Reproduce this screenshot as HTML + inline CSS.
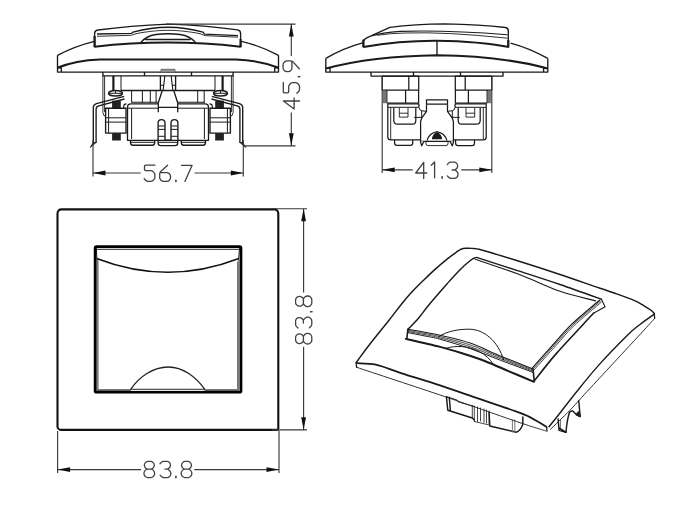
<!DOCTYPE html>
<html><head><meta charset="utf-8"><title>Switch drawing</title>
<style>
html,body{margin:0;padding:0;background:#fff;}
body{width:696px;height:510px;overflow:hidden;font-family:"Liberation Sans",sans-serif;}
svg{display:block;}
</style></head><body>
<svg width="696" height="510" viewBox="0 0 696 510">
<defs>
<g id="d5"><path d="M10.90,0.20 L1.80,0.20 Q0.50,0.20 0.50,1.50 L0.50,4.30 Q0.50,5.60 1.80,5.60 L6.70,5.60 Q8.00,5.60 8.94,6.50 L9.86,7.40 Q10.80,8.30 10.80,9.60 L10.80,12.40 Q10.80,13.70 9.86,14.60 L8.94,15.50 Q8.00,16.40 6.70,16.40 L4.10,16.40 Q2.80,16.40 1.88,15.48 L0.20,13.80"/></g>
<g id="d6"><path d="M7.90,0.20 L1.05,6.50 Q0.50,7.00 0.25,7.70 L0.25,7.70 Q0.00,8.40 0.00,9.14 L0.00,12.50 Q0.00,13.80 0.92,14.72 L1.68,15.48 Q2.60,16.40 3.90,16.40 L7.10,16.40 Q8.40,16.40 9.32,15.48 L9.88,14.92 Q10.80,14.00 10.80,12.70 L10.80,11.30 Q10.80,10.00 9.88,9.08 L9.32,8.52 Q8.40,7.60 7.10,7.60 L0.30,7.60"/></g>
<g id="d9"><path d="M2.90,16.20 L9.75,9.90 Q10.30,9.40 10.55,8.70 L10.55,8.70 Q10.80,8.00 10.80,7.26 L10.80,3.90 Q10.80,2.60 9.88,1.68 L9.12,0.92 Q8.20,0.00 6.90,0.00 L3.70,0.00 Q2.40,0.00 1.48,0.92 L0.92,1.48 Q0.00,2.40 0.00,3.70 L0.00,5.10 Q0.00,6.40 0.92,7.32 L1.48,7.88 Q2.40,8.80 3.70,8.80 L10.50,8.80"/></g>
<g id="d8"><path d="M1.81,6.97 L1.39,6.43 Q0.60,5.40 0.60,4.10 L0.60,3.90 Q0.60,2.60 1.48,1.64 L1.92,1.16 Q2.80,0.20 4.10,0.20 L6.90,0.20 Q8.20,0.20 9.08,1.16 L9.52,1.64 Q10.40,2.60 10.40,3.90 L10.40,4.10 Q10.40,5.40 9.61,6.43 L9.19,6.97 Q8.40,8.00 7.10,8.00 L3.90,8.00 Q2.60,8.00 1.81,6.97 M1.72,8.96 L1.08,9.64 Q0.20,10.60 0.20,11.90 L0.20,12.60 Q0.20,13.90 1.10,14.84 L1.70,15.46 Q2.60,16.40 3.90,16.40 L7.10,16.40 Q8.40,16.40 9.30,15.46 L9.90,14.84 Q10.80,13.90 10.80,12.60 L10.80,11.90 Q10.80,10.60 9.92,9.64 L9.28,8.96 Q8.40,8.00 7.10,8.00 L3.90,8.00 Q2.60,8.00 1.72,8.96"/></g>
<g id="d3"><path d="M0.00,2.60 L1.40,1.14 Q2.30,0.20 3.60,0.20 L7.00,0.20 Q8.30,0.20 9.22,1.12 L9.48,1.38 Q10.40,2.30 10.40,3.60 L10.40,4.30 Q10.40,5.60 9.48,6.52 L8.92,7.08 Q8.00,8.00 6.70,8.00 L5.00,8.00 M8.00,8.00 L9.85,9.72 Q10.80,10.60 10.80,11.90 L10.80,12.70 Q10.80,14.00 9.88,14.92 L9.32,15.48 Q8.40,16.40 7.10,16.40 L3.90,16.40 Q2.60,16.40 1.68,15.48 L0.10,13.90"/></g>
<g id="d4"><path d="M8.2,16.4 V0.3 L0.2,11.0 H11.2"/></g>
<g id="d7"><path d="M0.3,0.3 H10.9 L3.7,16.4"/></g>
<g id="d1"><path d="M0,3.3 L3.3,0.2 V16.4"/></g>
<g id="dp"><path d="M0.6,15.2 V16.6" stroke-width="1.6"/></g>
<g id="arrow"><path d="M0,0 L12.5,-2.4 L12.5,2.4 Z"/></g>
</defs>
<!-- ===== view 3: front ===== -->
<g fill="none">
  <path d="M57.5,213.4 A4,4 0 0 1 61.5,209.4 H274.3 A4,4 0 0 1 278.3,213.4 V428.9 A1,1 0 0 1 277.3,429.9 H61 A3.5,3.5 0 0 1 57.5,426.4 Z" stroke="#111" stroke-width="2.1"/>
  <path d="M97.4,258.5 V390.1 H239" stroke="#7a7a7a" stroke-width="2.4"/>
  <path d="M238.6,258.5 V390" stroke="#8a8a8a" stroke-width="2"/>
  <path d="M237.7,262 V389" stroke="#444" stroke-width="0.8"/>
  <path d="M96.4,249.3 H239.4" stroke="#222" stroke-width="1"/>
  <path d="M96.3,248 L96.9,258.6 M239.6,248 L238.6,258.6" stroke="#222" stroke-width="1"/>
  <path d="M96.6,258.5 Q168,286 238.8,258.5" stroke="#111" stroke-width="1.5"/>
  <rect x="95.1" y="246.7" width="145.9" height="145.5" rx="1.5" stroke="#000" stroke-width="2.7"/>
  <path d="M130.7,389.4 C139,377 153,367 168.3,367 C183,367 196,377 204.8,389.4" stroke="#222" stroke-width="1.3" fill="#fff"/>
  <path d="M130.7,389.3 H204.8" stroke="#222" stroke-width="1"/>
  <path d="M131,390.4 H204.5" stroke="#fff" stroke-width="1"/>
</g>
<!-- ===== view 1: side ===== -->
<g fill="none" stroke="#1a1a1a" stroke-width="1.35" stroke-linejoin="round">
  <!-- frame -->
  <path d="M57.5,55.3 Q75,46 94.5,41.3 M241.5,41.3 Q261,46 278.5,55.3"/>
  <path d="M57.5,55.3 V72.1 H278.5 V55.3"/>
  <path d="M57.5,67.8 C68,63.5 80,60.2 100,59.5 L236,59.5 C256,60.2 268,63.5 278.5,67.8" stroke-width="2"/>
  <path d="M57.5,67.7 H61.3 V72.1 M278.5,67.7 H274.7 V72.1"/>
  <!-- rocker -->
  <path d="M94.6,47 V33.2 Q94.9,30.3 98,30 Q130,25.6 168,24.1 Q205,25.3 237.5,29.8 Q240.6,30.4 240.6,33.2 V47"/>
  <path d="M94.6,36 V47.2 M240.6,39 V47.2" stroke-width="2.2"/>
  <path d="M94.6,46.8 Q168,38.4 240.6,46.8" stroke-width="2"/>
  <path d="M97,34 L131.5,33.4 L133,32.1 C146,28.6 157,27.2 168,27.2 C179,27.2 190,28.6 203,32.1 L204.5,34.2 L238,35.7"/>
  <path d="M97,36.3 L131.4,35.3 Q134,33.9 140,32.9 C152,31 160,30.3 168,30.3 C176,30.3 184,31 196,32.9 Q202,33.9 204.6,35.6 L238,37.2" stroke-width="0.9"/>
  <path d="M140.6,42.6 Q146,36 156,34.5 Q168,33 180,34.5 Q190,36 195.5,42.4"/>
  <path d="M145,39.5 H190.5"/>
  <!-- plate -->
  <path d="M102.9,72.1 V75.9 H233.1 V72.1 M144.5,72.1 V75.9 M191.5,72.1 V75.9"/>
  <rect x="161" y="69.3" width="14" height="2.9" fill="#999" stroke="#555" stroke-width="0.8"/>
  <!-- center funnel -->
  <path d="M160.4,75.9 V90.4 M175.6,75.9 V90.4 M162.3,90.4 L158.4,102.5 M173.7,90.4 L177.6,102.5"/>
  <path d="M164.8,75.9 L163.2,90 M171.2,75.9 L172.8,90 M160.4,85.3 H163.6 M172.4,85.3 H175.6" stroke-width="1.1"/>
  <!-- main body -->
  <rect x="127.5" y="103.8" width="81" height="36.5" fill="#fff" stroke="none"/>
  <path d="M158.1,103.8 H131 Q127.5,103.8 127.5,107 V140.3 H208.5 V107 Q208.5,103.8 205,103.8 H177.9"/>
  <path d="M131.6,139 V108.2 M204.4,139 V108.2 M127.5,108.2 H158.1 M177.9,108.2 H208.5" stroke-width="1"/>
  <path d="M123.7,122 V106.5 Q123.7,103.9 126.5,103.9 M212.3,122 V106.5 Q212.3,103.9 209.5,103.9" stroke-width="1.1"/>
  <path d="M130.8,142.3 H154.4 M158.4,142.3 H177.4 M181.6,142.3 H205.2" stroke-width="1"/>
  <path d="M158.3,102.5 V112.3 M177.7,102.5 V112.3 M158.3,107.4 H177.7" stroke-width="1.3"/>
  <path d="M130.5,140.3 V142.8 Q130.5,145.2 133,145.2 H152.3 Q154.7,145.2 154.7,142.8 V140.3 M158.1,140.3 V143 Q158.1,145.6 160.8,145.6 H175 Q177.7,145.6 177.7,143 V140.3 M181.3,140.3 V142.8 Q181.3,145.2 183.7,145.2 H203 Q205.5,145.2 205.5,142.8 V140.3"/>
  <path d="M158.1,140.3 V123 Q158.1,119.6 161.5,119.6 Q165,119.6 165,123 V140.3 M171,140.3 V123 Q171,119.6 174.4,119.6 Q177.9,119.6 177.9,123 V140.3"/>
  <path d="M158.1,126 H165 M158.1,129.4 H165 M158.1,136.3 H165 M171,126 H177.9 M171,129.4 H177.9 M171,136.3 H177.9 M165,140 H171" stroke-width="1"/>
  <path d="M121,90.4 H215" stroke-width="1.5"/>
  <path d="M131.6,102.3 H158.4 M177.6,102.3 H205" stroke-width="1.1"/>
  <path d="M131.6,90.4 V102.5 M142.4,90.4 V102.5 M150.3,90.4 V102.5 M156.1,90.4 V102.5 M197.7,90.4 V102.5 M204.2,90.4 V102.5" stroke-width="1"/>
</g>
<!-- left terminal, mirrored for right -->
<g id="term1" fill="none" stroke="#1a1a1a" stroke-width="1.35" stroke-linejoin="round">
  <path d="M102.9,75.9 V112.5 Q102.9,116.4 106.5,116.4 M104.6,75.9 V112" stroke-width="0.9"/>
  <path d="M113.4,75.9 V90.7" stroke-width="2.2"/><path d="M121,75.9 V90.7" stroke-width="1"/>
  <ellipse cx="115.5" cy="93.3" rx="6.9" ry="2.8" fill="#fff" stroke-width="1.5"/>
  <path d="M108.8,93.3 H122.2 M115.5,90.5 V93.3" stroke-width="1"/>
  <rect x="112.1" y="100.6" width="8.7" height="7.9" fill="#222" stroke="none"/>
  <path d="M93.3,143 V107.6 Q93.3,104.6 96.5,103.6 L124.2,96.4 M96.1,143 V109 Q96.1,106.6 98.8,105.9 L124.5,99"/>
  <path d="M90.2,147.4 L93.3,142.5 L96.1,142.5 Z" fill="#222" stroke-width="0.8"/>
  <rect x="105.6" y="108.2" width="20.4" height="24.9" fill="#fff"/>
  <path d="M108.6,108.2 V133 M105.6,117.8 H126 M105.6,122.1 H126" stroke-width="1"/>
  <rect x="112.1" y="133.1" width="8.7" height="7.4" fill="#222" stroke="none"/>
  
</g>
<use href="#term1" transform="matrix(-1,0,0,1,336,0)"/>
<!-- ===== view 2: side ===== -->
<g fill="none" stroke="#1a1a1a" stroke-width="1.35" stroke-linejoin="round">
  <path d="M325.8,58.4 Q342,48.5 363.4,42.6 M510.6,43.1 Q529,48 547.8,58.4"/>
  <path d="M325.8,58.4 V72.1 H547.8 V58.4"/>
  <path d="M326,68.5 Q372,56 437,55.2 Q502,56 547.6,68.5" stroke-width="2"/>
  <path d="M325.8,68.3 H330 V72.1 M547.8,68.3 H543.6 V72.1"/>
  <path d="M437,41.3 V55"/>
  <!-- rocker -->
  <path d="M363.4,47.2 V41.2 Q364,39 367.2,37.6 L389.9,27.3 Q415,24.2 445,23.8 Q480,24.5 505.5,27.5 Q508.3,28 508.3,31 V47.2"/>
  <path d="M363.4,39.5 V47.3 M508.3,40 V47.3" stroke-width="2.2"/>
  <path d="M363.4,47.1 Q400,40.6 437,40.8 Q480,41.4 508.8,47.1" stroke-width="2"/>
  <path d="M371.5,36.1 Q382,32.5 400,31.4 Q445,29.9 507.5,34.7" stroke-width="1.1"/>
  <path d="M377,35.3 Q390,33.3 405,33 Q445,31.6 507.5,38.2" stroke-width="0.9"/>
  <!-- plate -->
  <path d="M371,72.1 V76.1 H503 V72.1 M413.5,72.1 V76.1 M460.5,72.1 V76.1"/>
</g>
<g id="term2" fill="none" stroke="#1a1a1a" stroke-width="1.25" stroke-linejoin="round">
  <rect x="382.2" y="76.1" width="36.5" height="14"/>
  <path d="M408.8,76.1 V90.1"/>
  <path d="M386.8,90.1 V103 M418.6,90.1 V103 M405.6,90.1 V103 M386.8,103 H418.6"/>
  <rect x="382.8" y="91" width="3.6" height="12.2" fill="#777" stroke="none"/>
  <path d="M418.9,107.4 V103.8 H387.8 V137 Q387.8,139.9 390.7,139.9 H420.6" fill="#fff"/>
  <path d="M418.9,107.4 Q419.3,110.4 421.8,110.7 L426.5,111.4 M421.7,110.7 V118.1 M414.2,117.4 H421.7 M387.8,107.3 H418.9" stroke-width="1"/>
  <path d="M390.7,107.3 V139.5" stroke-width="0.9"/>
  <path d="M393.8,107.8 V120.2 Q393.8,124.2 397.5,124.2 H412.4 Q415.8,124.2 415.8,120.2 V107.8"/>
  <path d="M399.3,107.8 V117.1 H408 V107.8 M399.3,113.2 H408" stroke-width="0.9"/>
  <path d="M426.5,104.2 V99.8 H437 M426.5,104.2 H437" />
  <path d="M426.5,104.2 V111.4 L421.7,118.2 L420.6,121.5 V141.3 H437"/>
  <path d="M420.3,141.3 L421.7,145.8 L423.9,141.5" fill="#fff"/>
  <path d="M426,141.8 V143.6 Q426,145.6 428,145.6 H437" stroke-width="0.9"/>
  <path d="M427.1,140.6 Q429,133 437.3,131.6" />
  <path d="M431.9,139.3 Q432.6,133.2 437.3,132.3 V139.3 Z" fill="#1a1a1a" stroke="none"/>
</g>
<use href="#term2" transform="matrix(-1,0,0,1,874,0)"/>
<path d="M394.6,140 V143 Q394.6,145.4 397,145.4 H410.4 Q412.7,145.4 412.7,143 V140 M455.6,140 V143 Q455.6,145.6 458,145.6 H472.2 Q474.5,145.6 474.5,143 V140" fill="none" stroke="#1a1a1a" stroke-width="1.25"/>
<!-- ===== view 4: iso ===== -->
<g fill="none" stroke="#1a1a1a" stroke-width="1.45" stroke-linejoin="round" stroke-linecap="round">
  <path d="M446.4,396.6 L447.8,410.2 L472.3,418 L474.3,420 M449.3,397.5 L450.4,410.7" />
  <path d="M446.4,396.6 L456.8,399.9 L458.1,401.8 L474,406.5" stroke-width="0.9"/>
  <path d="M472.3,405.5 V418 M474.3,406 V421.5 M477.5,407 V422 M480.5,408 V421 M484,409 V422.5 M486.5,410 V423 M489.1,411 V424" stroke-width="0.8"/>
  <path d="M474.3,421.5 L489.1,425" stroke-width="0.8"/>
  <path d="M489.1,412.5 L489.8,426 L516.3,432.2 Q520,431.5 522.8,424.5 L522.8,417" />
  <path d="M512.4,420 V432 M514.8,420 V432.5" stroke="#777" stroke-width="1"/>
  <path d="M558.1,419 L559.1,430.2 L566,432.2 Q567,420 569.4,412.5 Q571,410.5 572.8,411 L576.3,414.5 L580.2,416.5 L578.7,400.8" />
  <path d="M560.5,420 V430.5" stroke="#777" stroke-width="1"/>
  <path d="M559.1,428 L563,431 L566,432.2 Z M576.3,414.5 L580.2,416.5 L578.5,412 Z" fill="#222"/>
  <path d="M356.3,362.6 C356.7,362.0 356.4,362.2 358.6,359.2 C360.8,356.2 364.5,351.0 369.6,344.5 C374.7,338.0 383.8,326.8 389.2,320.0 C394.6,313.2 398.0,308.4 401.8,303.8 C405.6,299.2 408.2,296.0 411.8,292.1 C415.4,288.2 419.6,284.1 423.5,280.3 C427.4,276.5 431.4,272.6 435.3,269.1 C439.2,265.6 443.6,261.9 447.1,259.1 C450.6,256.3 454.1,253.8 456.5,252.1 C458.9,250.4 459.9,249.6 461.5,249.0 C463.1,248.4 464.2,248.4 466.0,248.3 C467.8,248.2 469.4,248.1 472.0,248.4 C474.6,248.7 474.0,247.9 481.6,250.0 C489.2,252.1 504.4,256.7 517.5,260.8 C530.6,264.9 546.2,269.9 560.0,274.5 C573.8,279.1 590.8,285.2 600.0,288.3 C609.2,291.4 609.2,291.2 615.0,293.3 C620.8,295.4 629.7,298.6 634.6,300.7 C639.5,302.8 641.6,304.5 644.4,306.1 C647.2,307.7 649.7,309.3 651.3,310.5 C652.9,311.7 653.7,312.9 654.2,313.4 C651.6,316.1 644.4,321.1 640.0,324.5 C635.6,327.9 634.5,328.3 627.7,335.0 C620.9,341.7 607.7,355.2 599.2,364.6 C590.7,374.0 583.3,383.4 576.8,391.5 C570.3,399.6 564.6,407.1 560.0,413.0 C555.4,418.9 550.8,424.5 549.0,426.8 C544.2,425.5 539.3,422.3 535.0,420.0 C530.7,417.7 530.8,416.9 520.0,412.9 C509.2,408.8 483.3,400.3 470.0,395.7 C456.7,391.1 451.4,389.0 440.0,385.3 C428.6,381.6 412.4,376.7 401.7,373.3 C391.0,369.9 383.3,366.4 375.9,364.7 C368.5,363.0 360.6,363.4 357.5,363.2 Z" fill="#fff" stroke="none"/>
  <path d="M356.3,362.6 C356.7,362.0 356.4,362.2 358.6,359.2 C360.8,356.2 364.5,351.0 369.6,344.5 C374.7,338.0 383.8,326.8 389.2,320.0 C394.6,313.2 398.0,308.4 401.8,303.8 C405.6,299.2 408.2,296.0 411.8,292.1 C415.4,288.2 419.6,284.1 423.5,280.3 C427.4,276.5 431.4,272.6 435.3,269.1 C439.2,265.6 443.6,261.9 447.1,259.1 C450.6,256.3 454.1,253.8 456.5,252.1 C458.9,250.4 459.9,249.6 461.5,249.0 C463.1,248.4 464.2,248.4 466.0,248.3 C467.8,248.2 469.4,248.1 472.0,248.4 C474.6,248.7 474.0,247.9 481.6,250.0 C489.2,252.1 504.4,256.7 517.5,260.8 C530.6,264.9 546.2,269.9 560.0,274.5 C573.8,279.1 590.8,285.2 600.0,288.3 C609.2,291.4 609.2,291.2 615.0,293.3 C620.8,295.4 629.7,298.6 634.6,300.7 C639.5,302.8 641.6,304.5 644.4,306.1 C647.2,307.7 649.7,309.3 651.3,310.5 C652.9,311.7 653.7,312.9 654.2,313.4" />
  <path d="M653.9,314.4 C651.6,316.1 644.4,321.1 640.0,324.5 C635.6,327.9 634.5,328.3 627.7,335.0 C620.9,341.7 607.7,355.2 599.2,364.6 C590.7,374.0 583.3,383.4 576.8,391.5 C570.3,399.6 564.6,407.1 560.0,413.0 C555.4,418.9 550.8,424.5 549.0,426.8" stroke-width="1.4"/>
  <path d="M654.7,318.3 C652.2,321.1 650.5,323.1 639.5,335.0 C628.5,346.9 600.1,377.5 588.5,390.0 C576.9,402.5 576.3,403.7 570.0,410.2 C563.7,416.7 553.8,426.0 550.6,429.2" stroke-width="0.9"/>
  <path d="M357.5,363.2 C360.6,363.4 368.5,363.0 375.9,364.7 C383.3,366.4 391.0,369.9 401.7,373.3 C412.4,376.7 428.6,381.6 440.0,385.3 C451.4,389.0 456.7,391.1 470.0,395.7 C483.3,400.3 509.2,408.8 520.0,412.9 C530.8,416.9 530.7,417.7 535.0,420.0 C539.3,422.3 544.2,425.5 546.0,426.6" stroke-width="1.8"/>
  <path d="M356.6,367.3 C371.3,372.2 417.6,387.4 444.8,396.6 C472.0,405.8 503.1,417.0 520.0,422.7 C536.9,428.4 541.7,429.6 546.0,431.0" stroke-width="0.9"/>
  <path d="M356.1,362.4 L356.6,367.3 M654.2,313.4 L654.7,318.3 M546.6,426.6 L547,431" stroke-width="1.3"/>
  <path d="M407.9,329.4 C409.7,327.5 415.2,322.1 418.7,318.0 C422.2,313.9 424.1,310.7 428.8,305.0 C433.5,299.3 442.1,289.5 447.1,283.8 C452.1,278.1 454.9,274.8 458.8,270.9 C462.7,267.0 467.9,262.5 470.6,260.3 C473.4,258.1 474.5,258.1 475.3,257.7 C483.3,259.6 503.6,266.1 517.5,270.6 C531.4,275.1 546.0,279.7 560.0,284.5 C574.0,289.3 594.5,296.8 601.4,299.3 C594.9,304.2 579.3,316.9 571.8,324.1 C564.2,331.3 560.8,336.2 554.2,343.5 C547.6,350.8 536.0,363.8 532.4,367.8 Z" fill="#fff" stroke="none"/>
  <path d="M407.9,329.4 C409.7,327.5 415.2,322.1 418.7,318.0 C422.2,313.9 424.1,310.7 428.8,305.0 C433.5,299.3 442.1,289.5 447.1,283.8 C452.1,278.1 454.9,274.8 458.8,270.9 C462.7,267.0 467.9,262.5 470.6,260.3 C473.4,258.1 474.5,258.1 475.3,257.7" />
  <path d="M476.5,257.4 C483.3,259.6 503.6,266.1 517.5,270.6 C531.4,275.1 546.0,279.7 560.0,284.5 C574.0,289.3 594.5,296.8 601.4,299.3" />
  <path d="M475.3,259.3 C482.8,261.9 505.9,269.5 520.0,274.8 C534.1,280.1 547.4,287.0 560.0,291.3 C572.6,295.6 589.6,299.2 595.5,300.8" stroke-width="1.2"/>
  <path d="M599.5,300.2 C594.9,304.2 579.3,316.9 571.8,324.1 C564.2,331.3 560.8,336.2 554.2,343.5 C547.6,350.8 536.0,363.8 532.4,367.8" stroke-width="1.2"/>
  <path d="M600.4,301.2 C595.8,305.2 580.2,317.9 572.7,325.1 C565.1,332.3 561.7,337.2 555.1,344.5 C548.5,351.8 536.9,364.8 533.3,368.8" stroke-width="0.8"/>
  <path d="M601.3,302.2 C596.7,306.2 581.1,318.9 573.6,326.1 C566.0,333.3 562.6,338.2 556.0,345.5 C549.4,352.8 537.8,365.8 534.2,369.8" stroke-width="0.8"/>
  <path d="M593.5,313.2 C591.7,315.2 588.9,318.1 582.6,325.0 C576.3,331.9 563.7,345.1 555.6,354.4 C547.5,363.7 537.8,376.4 534.3,380.8" stroke-width="1.6"/>
  <path d="M601.4,299.3 L605.1,306.8 L593.5,313.2" stroke-width="1.1"/>
  <path d="M407.9,329.2 C410.8,329.7 419.6,331.3 425.0,332.3 C430.4,333.3 432.5,333.5 440.0,335.3 C447.5,337.1 460.1,339.7 470.2,343.1 C480.2,346.5 489.8,351.6 500.3,355.9 C510.8,360.2 527.5,366.8 533.0,369.0" stroke-width="1.1"/>
  <path d="M407.9,330.3 C410.8,330.9 419.6,332.5 425.0,333.5 C430.4,334.6 432.5,334.7 440.0,336.6 C447.5,338.5 460.1,341.5 470.2,344.9 C480.2,348.4 489.8,353.1 500.3,357.3 C510.8,361.5 527.5,368.0 533.0,370.1" stroke-width="0.8"/>
  <path d="M407.9,331.4 C410.8,332.0 419.6,333.7 425.0,334.7 C430.4,335.8 432.5,335.9 440.0,337.9 C447.5,339.9 460.1,343.3 470.2,346.7 C480.2,350.2 489.8,354.7 500.3,358.7 C510.8,362.8 527.5,369.1 533.0,371.2" stroke-width="0.8"/>
  <path d="M407.9,332.6 C410.8,333.2 419.6,334.9 425.0,336.0 C430.4,337.1 432.5,337.1 440.0,339.2 C447.5,341.3 460.1,345.1 470.2,348.6 C480.2,352.1 489.8,356.2 500.3,360.2 C510.8,364.1 527.5,370.3 533.0,372.3" stroke-width="1.0"/>
  <path d="M405.8,338.9 C411.5,340.2 430.6,344.5 440.0,346.9 C449.4,349.3 454.4,350.9 462.0,353.3 C469.6,355.7 477.5,358.2 485.3,361.2 C493.1,364.2 501.0,367.9 509.0,371.3 C517.0,374.7 529.4,379.9 533.5,381.6" stroke-width="2"/>
  <path d="M407.9,329.4 L406.8,338.9 M533,369 L534.3,381.6" stroke-width="1.6"/>
  <path d="M438.6,336.6 C448,331 458,329.2 469.5,329.2 C484,329.4 498,341 503.6,359.8" stroke-width="1"/>
  <path d="M446,348.3 C451,346.8 456,346.3 461.1,346.5 C474,347.2 487,354 492.8,363.6" stroke-width="1"/>
</g>
<!-- ===== dimensions ===== -->
<g fill="none" stroke="#3a3a3a" stroke-width="1.15">
  <!-- 56.7 -->
  <path d="M93,140 V176.5 M243.3,140 V176.5 M93,173 H140.8 M194.5,173 H243.3"/>
  <!-- 45.9 -->
  <path d="M166,24.1 H295.5 M244,145.8 H295.5 M291.3,24 V56 M291.3,112.5 V145.8"/>
  <!-- 41.3 -->
  <path d="M382.2,76 V173 M491.8,76 V173 M382.2,169.8 H412.7 M461.2,169.8 H491.8"/>
  <!-- 83.8 bottom -->
  <path d="M57.6,431 V473 M279,431 V473 M57.6,469.6 H141 M194.3,469.6 H279"/>
  <!-- 83.8 right -->
  <path d="M272,208.7 H307 M272,429.8 H307 M303.6,208.7 V292.4 M303.6,346.7 V429.8"/>
</g>
<g fill="#111" stroke="none">
  <use href="#arrow" transform="translate(93,173)"/>
  <use href="#arrow" transform="translate(243.3,173) rotate(180)"/>
  <use href="#arrow" transform="translate(291.3,24) rotate(90)"/>
  <use href="#arrow" transform="translate(291.3,145.8) rotate(-90)"/>
  <use href="#arrow" transform="translate(382.2,169.8)"/>
  <use href="#arrow" transform="translate(491.8,169.8) rotate(180)"/>
  <use href="#arrow" transform="translate(57.6,469.6)"/>
  <use href="#arrow" transform="translate(279,469.6) rotate(180)"/>
  <use href="#arrow" transform="translate(303.6,208.7) rotate(90)"/>
  <use href="#arrow" transform="translate(303.6,429.8) rotate(-90)"/>
</g>
<g fill="none" stroke="#404040" stroke-width="1.3" stroke-linecap="round" stroke-linejoin="round">
  <!-- 56.7 -->
  <use href="#d5" transform="translate(144.0,165.0)"/>
  <use href="#d6" transform="translate(159.7,165.0)"/>
  <use href="#dp" transform="translate(175.3,165.0)"/>
  <use href="#d7" transform="translate(181.2,165.0)"/>
  <!-- 41.3 -->
  <use href="#d4" transform="translate(415.5,162)"/>
  <path d="M431.3,165.2 L434.6,162 V177.8"/>
  <use href="#dp" transform="translate(441.5,161.6)"/>
  <use href="#d3" transform="translate(447.2,162)"/>
  <!-- 83.8 bottom -->
  <use href="#d8" transform="translate(143.8,461.2)"/>
  <use href="#d3" transform="translate(160,461.2)"/>
  <use href="#dp" transform="translate(175.3,461.2)"/>
  <use href="#d8" transform="translate(181,461.2)"/>
  <!-- 45.9 vertical -->
  <g transform="translate(283.1,109.2) rotate(-90)">
    <use href="#d4" transform="translate(0,0)"/>
    <use href="#d5" transform="translate(15.8,0)"/>
    <use href="#dp" transform="translate(31.8,0)"/>
    <use href="#d9" transform="translate(37.6,0)"/>
  </g>
  <!-- 83.8 vertical -->
  <g transform="translate(295.4,344.2) rotate(-90)">
    <use href="#d8" transform="translate(0,0)"/>
    <use href="#d3" transform="translate(16.2,0)"/>
    <use href="#dp" transform="translate(31.8,0)"/>
    <use href="#d8" transform="translate(37.4,0)"/>
  </g>
</g>
</svg></body></html>
